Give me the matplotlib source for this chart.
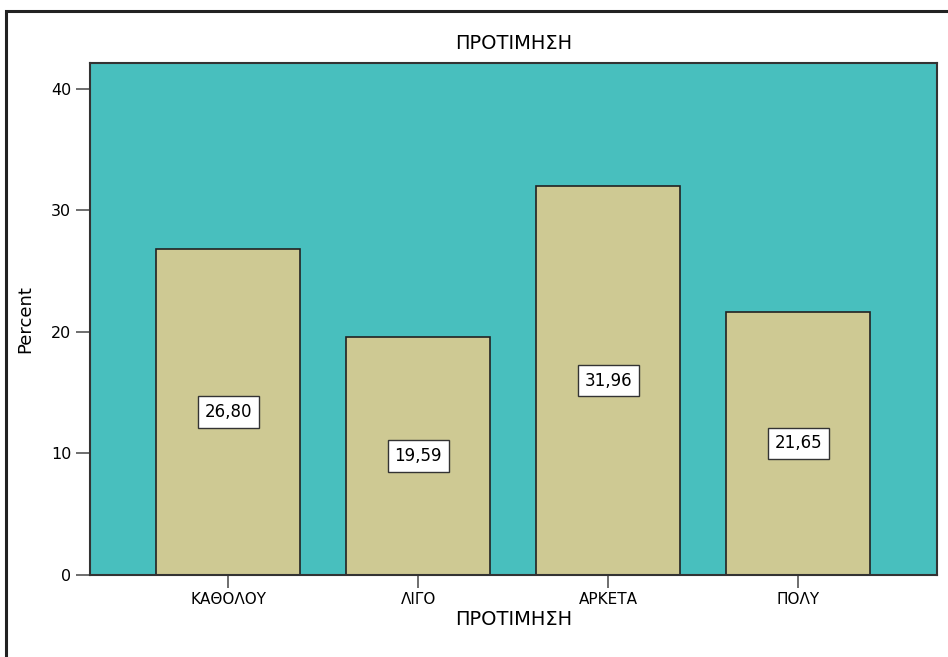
import matplotlib.pyplot as plt
import numpy as np
from matplotlib.patches import Rectangle

# datos del grafico
categorias = ['ΚΑΘΟΛΟΥ', 'ΛΙΓΟ', 'ΑΡΚΕΤΑ', 'ΠΟΛΥ']
porcentajes = [26.80, 19.59, 31.96, 21.65]
etiquetas = ['26,80', '19,59', '31,96', '21,65']

plt.rcParams['font.family'] = ['DejaVu Sans']

fig = plt.figure(figsize=(9.48, 6.57), dpi=100)
ax = fig.add_axes([0.0949, 0.1248, 0.8935, 0.7793])

ax.set_facecolor('#48bfbe')
x = np.arange(len(categorias))
barras = ax.bar(x, porcentajes, width=0.76, color='#cec993',
                edgecolor='#222222', linewidth=1.2)

for xi, v, t in zip(x, porcentajes, etiquetas):
  ax.text(xi, v / 2, t, ha='center', va='center', fontsize=12,
          bbox=dict(boxstyle='square,pad=0.4', fc='white', ec='#333333', lw=1))

ax.set_xlim(-0.727, 3.73)
ax.set_ylim(0, 42.1)
ax.set_yticks([0, 10, 20, 30, 40])
ax.set_xticks(x)
ax.set_xticklabels(categorias, fontsize=11)
ax.tick_params(axis='y', labelsize=11.5, length=10, color='#555555', width=1.2)
ax.tick_params(axis='x', length=9, color='#555555', width=1.2)

for s in ax.spines.values():
  s.set_color('#333333')
  s.set_linewidth(1.5)

ax.set_title('ΠΡΟΤΙΜΗΣΗ', fontsize=14, pad=10)
ax.set_xlabel('ΠΡΟΤΙΜΗΣΗ', fontsize=14, labelpad=2)
ax.set_ylabel('Percent', fontsize=13, labelpad=12)

# marco exterior
fig.patches.append(Rectangle((0.0063, -0.05), 1.1, 1.034, transform=fig.transFigure,
                             fill=False, ec='#222222', lw=2.2, clip_on=False))

fig.savefig('out.png', dpi=100)
